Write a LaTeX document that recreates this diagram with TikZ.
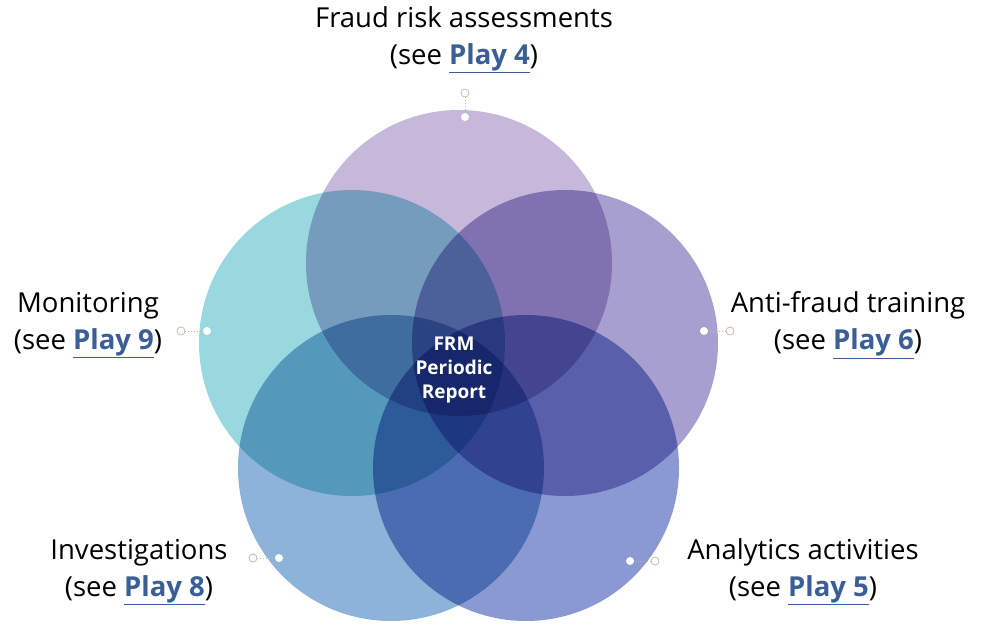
\documentclass[tikz,border=0pt]{standalone}
\usepackage{fontspec}
\setmainfont{Open Sans}
\definecolor{riskcol}{RGB}{197,184,218}
\definecolor{moncol}{RGB}{152,216,222}
\definecolor{traincol}{RGB}{166,159,208}
\definecolor{invcol}{RGB}{141,180,216}
\definecolor{anacol}{RGB}{138,153,210}
\definecolor{linkblue}{RGB}{58,95,150}
\definecolor{tipcol}{RGB}{200,185,165}
\newcommand{\play}[1]{\textbf{\color{linkblue}\underline{Play #1}}}

\begin{document}
\begin{tikzpicture}[x=1pt,y=-1pt,
  ring/.style={circle,minimum size=306pt,inner sep=0pt,fill=#1},
  lbl/.style={align=center,font=\fontsize{27.5}{37}\selectfont},
  tip/.style={circle,draw=tipcol,fill=white,line width=0.8pt,inner sep=0pt,minimum size=8pt},
  dot/.style={circle,fill=white,inner sep=0pt,minimum size=8pt}]
  \useasboundingbox (0,0) rectangle (982,626);

  % the five overlapping circles
  \begin{scope}[blend group=multiply]
    \node[ring=riskcol] (risk) at (459,263) {};
    \node[ring=moncol] (mon) at (352,343) {};
    \node[ring=traincol] (train) at (565,343) {};
    \node[ring=invcol] (inv) at (391,468) {};
    \node[ring=anacol] (ana) at (526,468) {};
  \end{scope}

  \node[text=white,align=center,font=\bfseries\fontsize{19}{24}\selectfont] (frm) at (454,370) {FRM\\Periodic\\Report};

  % labels
  \node[lbl] (l4) at (464,40) {Fraud risk assessments\\(see \play{4})};
  \node[lbl] (l9) at (88,325) {Monitoring\\(see \play{9})};
  \node[lbl] (l6) at (848,325) {Anti-fraud training\\(see \play{6})};
  \node[lbl] (l8) at (139,572) {Investigations\\(see \play{8})};
  \node[lbl] (l5) at (803,572) {Analytics activities\\(see \play{5})};

  % pins
  \node[dot] (d4) at (465,117) {};
  \node[tip] (t4) at (465,93) {};
  \node[dot] (d9) at (207,331) {};
  \node[tip] (t9) at (181,331) {};
  \node[dot] (d6) at (704,331) {};
  \node[tip] (t6) at (730,331) {};
  \node[dot] (d8) at (279,558) {};
  \node[tip] (t8) at (253,558) {};
  \node[dot] (d5) at (630,561) {};
  \node[tip] (t5) at (655,561) {};
  \path[draw=tipcol,dotted,line width=1pt]
    (t4) -- (d4)
    (t9) -- (d9)
    (t6) -- (d6)
    (t8) -- (d8)
    (t5) -- (d5);
\end{tikzpicture}
\end{document}
